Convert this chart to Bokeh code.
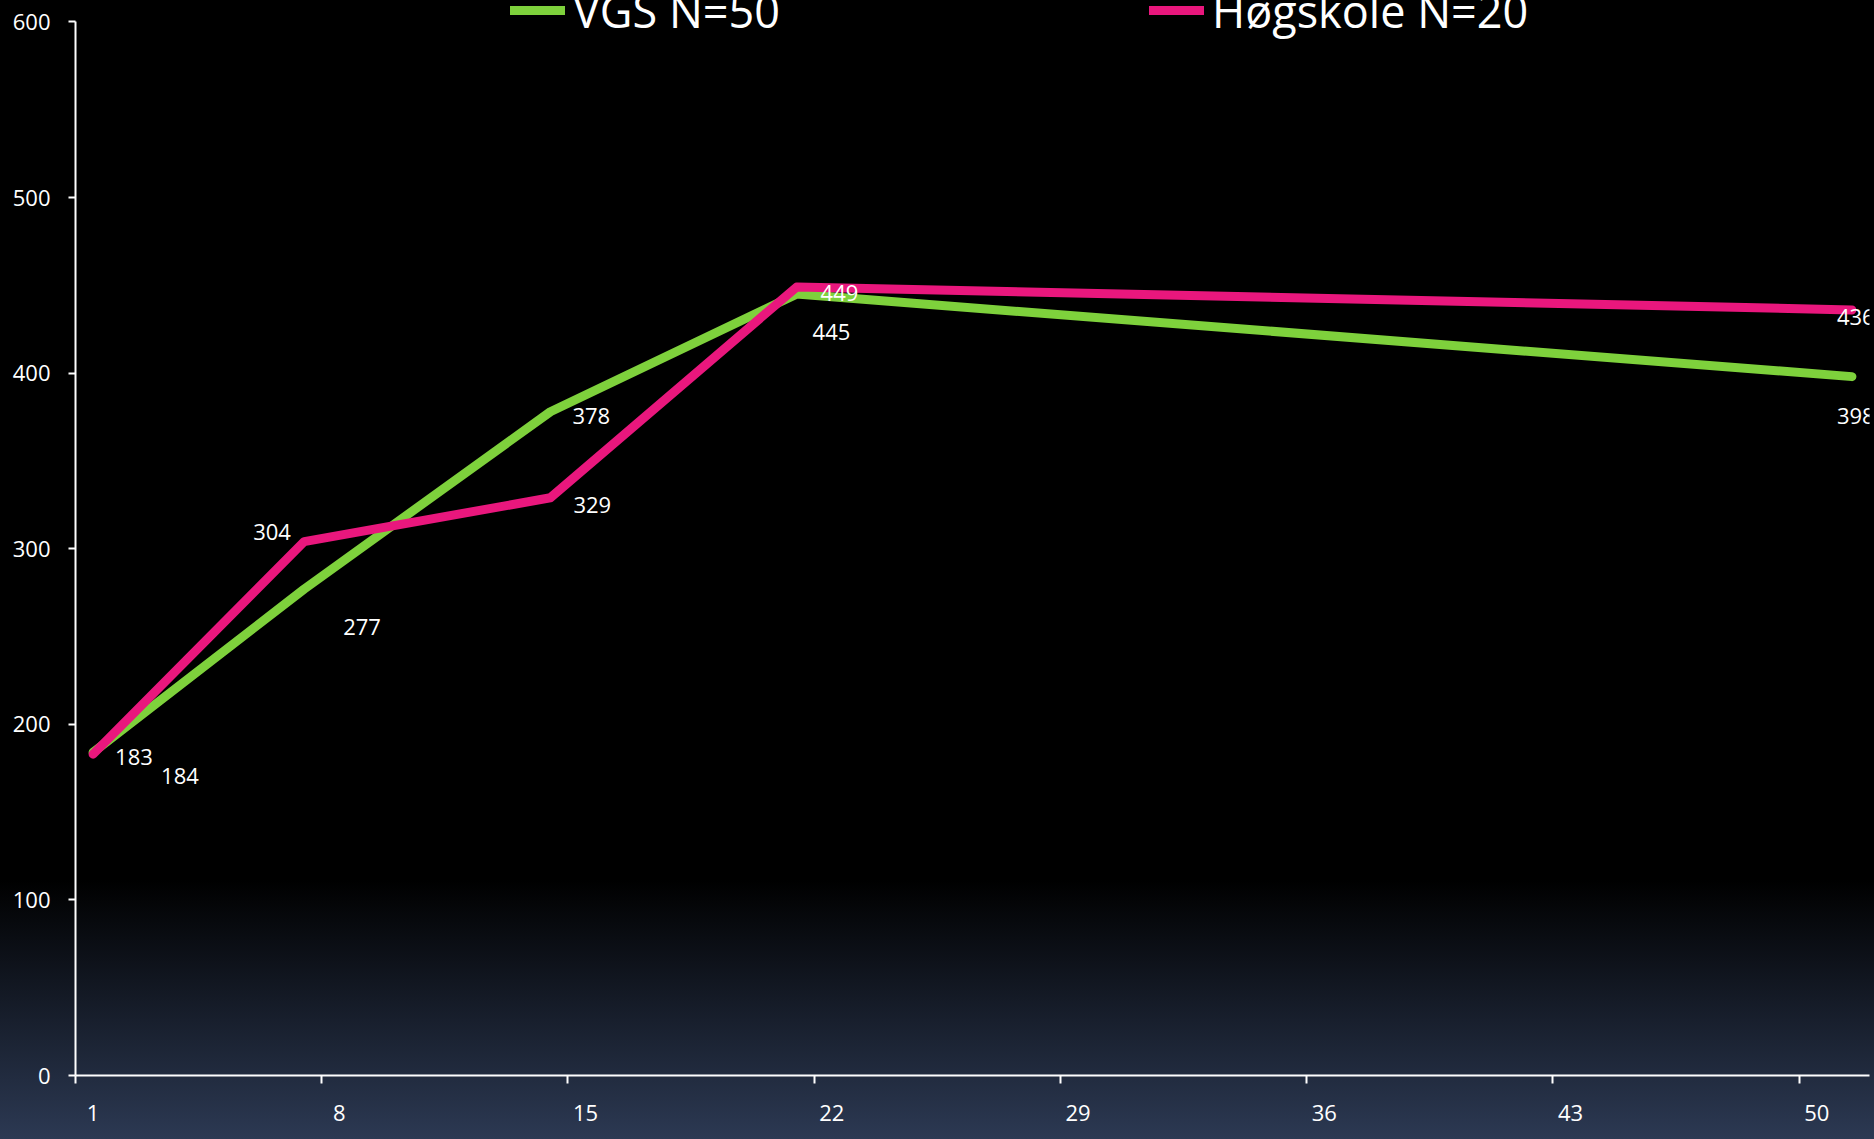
from bokeh.plotting import figure
from bokeh.models import (Range1d, FixedTicker, Legend, LegendItem, ColumnDataSource,
                          GlobalInlineStyleSheet)
from bokeh.core.properties import value
from bokeh.embed import file_html
from bokeh.resources import INLINE

# ---- data ----
x_points = [1, 7, 14, 21, 51]
vgs = [184, 277, 378, 445, 398]
hogskole = [183, 304, 329, 449, 436]
series_names = ["VGS N=50", "Høgskole N=20"]
x_tick_labels = [1, 8, 15, 22, 29, 36, 43, 50]
y_ticks = [0, 100, 200, 300, 400, 500, 600]

# label offsets (screen px, +y is down) for data labels
vgs_dx = [68, 39, 22, 16, -15]
vgs_dy = [24, 38, 4, 38, 39]
hog_dx = [22, -51, 23, 24, -15]
hog_dy = [3, -10, 7, 6, 7]

GREEN = "#7ED13C"
PINK = "#E9177D"
FONT = "Open Sans"

css = """
html { min-height: 100%;
  background: linear-gradient(to bottom, #000000 0px, #000000 880px, #2c3953 1139px) no-repeat;
  background-color: #2c3953; }
body { background: transparent; }
"""

# frame spans the full top of the canvas (so the legend glyphs are not clipped);
# the y axis line is bounded to 0..600
p = figure(width=1874, height=1139, output_backend="svg", toolbar_location=None,
           x_range=Range1d(0.5, 51.5), y_range=Range1d(0, 612.2),
           min_border_left=75, min_border_top=0, min_border_right=5, min_border_bottom=64)
p.stylesheets = [GlobalInlineStyleSheet(css=css)]
p.background_fill_color = None
p.border_fill_color = None
p.outline_line_color = None
p.grid.visible = False

r1 = p.line(x_points, vgs, line_color=GREEN, line_width=9, line_join="round", line_cap="round")
r2 = p.line(x_points, hogskole, line_color=PINK, line_width=9, line_join="round", line_cap="round")

src_v = ColumnDataSource(dict(x=x_points, y=vgs, t=[str(v) for v in vgs], dx=vgs_dx, dy=vgs_dy))
src_h = ColumnDataSource(dict(x=x_points, y=hogskole, t=[str(v) for v in hogskole], dx=hog_dx, dy=hog_dy))
for src in (src_v, src_h):
    p.text(x="x", y="y", text="t", x_offset="dx", y_offset="dy", source=src,
           text_color="white", text_font=value(FONT), text_font_size="22px",
           text_align="left", text_baseline="middle")

# axes
xa = p.xaxis[0]
xa.ticker = FixedTicker(ticks=x_tick_labels, minor_ticks=[t - 0.5 for t in x_tick_labels])
xa.major_label_overrides = {t: str(t) for t in x_tick_labels}
xa.major_tick_line_color = None
xa.major_tick_out = 0
xa.major_tick_in = 0
xa.minor_tick_line_color = "white"
xa.minor_tick_line_width = 2
xa.minor_tick_out = 8
xa.minor_tick_in = 0
xa.axis_line_color = "white"
xa.axis_line_width = 2
xa.major_label_standoff = 21
xa.major_label_text_color = "white"
xa.major_label_text_font = FONT
xa.major_label_text_font_size = "22px"

ya = p.yaxis[0]
ya.ticker = FixedTicker(ticks=y_ticks)
ya.bounds = (y_ticks[0], y_ticks[-1])
ya.minor_tick_line_color = None
ya.major_tick_line_color = "white"
ya.major_tick_line_width = 2
ya.major_tick_out = 7
ya.major_tick_in = 0
ya.axis_line_color = "white"
ya.axis_line_width = 2
ya.major_label_standoff = 18
ya.major_label_text_color = "white"
ya.major_label_text_font = FONT
ya.major_label_text_font_size = "22px"

legend = Legend(items=[LegendItem(label=series_names[0], renderers=[r1]),
                       LegendItem(label=series_names[1], renderers=[r2])],
                orientation="horizontal", location=(435, 1034),
                glyph_width=55, glyph_height=62, label_height=62, label_standoff=8, spacing=369,
                padding=0, margin=0, border_line_color=None, background_fill_color=None,
                label_text_color="white", label_text_font=FONT, label_text_font_size="45px")
p.add_layout(legend, "center")

open("out.html", "w").write(file_html(p, INLINE))
